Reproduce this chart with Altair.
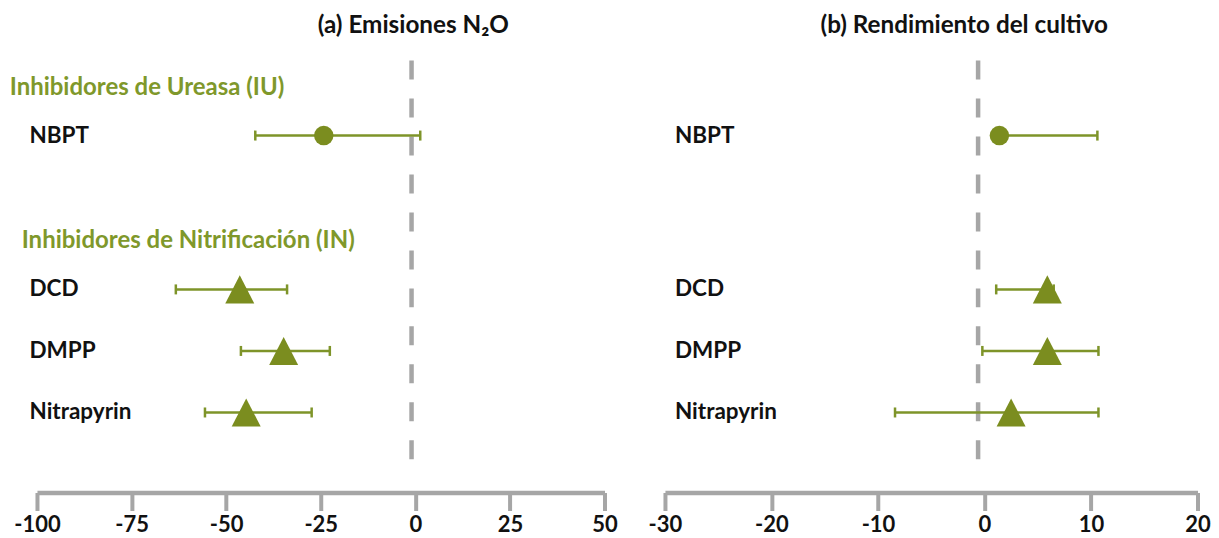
import json
import altair as alt
import pandas as pd

# ---- data ----
inhibitors = ["NBPT", "DCD", "DMPP", "Nitrapyrin"]
groups = ["IU", "IN", "IN", "IN"]

n2o_mean = [-24.2, -46.4, -34.8, -44.7]
n2o_low = [-42.3, -63.3, -46.1, -55.6]
n2o_high = [1.3, -33.9, -22.6, -27.4]

yield_mean = [1.4, 5.9, 5.9, 2.5]
yield_low = [1.0, 1.1, -0.2, -8.4]
yield_high = [10.6, 6.5, 10.7, 10.7]

ref_n2o = [-1.0]
ref_yield = [-0.6]

group_headers = ["Inhibidores de Ureasa (IU)", "Inhibidores de Nitrificación (IN)"]
header_rows = ["NBPT", "DCD"]

n2o_ticks = [-100, -75, -50, -25, 0, 25, 50]
yield_ticks = [-30, -20, -10, 0, 10, 20]

titles = ["(a) Emisiones N₂O", "(b) Rendimiento del cultivo"]

# ---- styling / layout ----
FONT = "Lato"
MARKER = "#7b8d1f"
LINE = "#7e9429"
HEADER = "#7f982b"
GREY = "#a6a6a6"
INK = "#111111"
TRI = "M0,-0.97L1,0.97L-1,0.97Z"

# row order on the vertical axis (half-row slots, blanks are spacing)
slots = ["NBPT", " 1", " 2", " 3", " 4", "DCD", " 5", "DMPP", " 6", "Nitrapyrin"]
slot_expr = "indexof(" + json.dumps(slots) + ", datum.inhibitor)"

y_enc = alt.Y(
    "slot:Q",
    scale=alt.Scale(domain=[-2.4375, 10.52], reverse=True, nice=False, zero=False),
    axis=None,
)


def panel(mean, low, high, ref, ticks, title, title_dx, label_x, headers, width):
    df = pd.DataFrame(
        {"inhibitor": inhibitors, "group": groups, "mean": mean, "low": low, "high": high}
    )
    x_scale = alt.Scale(domain=[ticks[0], ticks[-1]], nice=False, zero=False)
    x_axis = alt.Axis(
        values=ticks,
        labelExpr="'' + datum.value",
        labelFlush=False,
        labelOverlap=False,
        title=None,
        grid=False,
        offset=33.3,
        domainColor=GREY,
        domainWidth=4.3,
        tickColor=GREY,
        tickWidth=4,
        tickSize=18,
        labelPadding=4,
        labelFont=FONT,
        labelFontSize=22,
        labelFontWeight=700,
        labelColor=INK,
    )
    base = alt.Chart(df).transform_calculate(slot=slot_expr)

    refline = (
        alt.Chart(pd.DataFrame({"ref": ref}))
        .mark_rule(color=GREY, strokeWidth=4.5, strokeDash=[19, 19])
        .encode(x=alt.X("ref:Q", scale=x_scale, axis=x_axis))
    )
    whisker = base.mark_rule(color=LINE, strokeWidth=2.5).encode(
        x=alt.X("low:Q", scale=x_scale, axis=x_axis), x2="high:Q", y=y_enc
    )
    cap_lo = base.mark_tick(
        color=LINE, thickness=2.5, size=10, opacity=1, orient="vertical"
    ).encode(x=alt.X("low:Q", scale=x_scale, axis=x_axis), y=y_enc)
    cap_hi = base.mark_tick(
        color=LINE, thickness=2.5, size=10, opacity=1, orient="vertical"
    ).encode(x=alt.X("high:Q", scale=x_scale, axis=x_axis), y=y_enc)
    points = base.mark_point(filled=True, opacity=1, color=MARKER, strokeWidth=0).encode(
        x=alt.X("mean:Q", scale=x_scale, axis=x_axis),
        y=y_enc,
        shape=alt.Shape(
            "group:N",
            scale=alt.Scale(domain=["IU", "IN"], range=["circle", TRI]),
            legend=None,
        ),
        size=alt.Size(
            "group:N", scale=alt.Scale(domain=["IU", "IN"], range=[380, 841]), legend=None
        ),
    )
    labels = base.mark_text(
        align="left", baseline="middle", font=FONT, fontSize=22.5, fontWeight=700, color=INK
    ).encode(x=alt.value(label_x), y=y_enc, text="inhibitor:N")

    layers = [refline, whisker, cap_lo, cap_hi, points, labels]

    if headers:
        hdf = pd.DataFrame({"header": group_headers, "inhibitor": header_rows})
        for name, hx in zip(group_headers, [-27.3, -15.3]):
            layers.append(
                alt.Chart(hdf)
                .transform_calculate(slot=slot_expr)
                .transform_filter(alt.datum.header == name)
                .mark_text(
                    align="left",
                    baseline="middle",
                    dy=-48,
                    font=FONT,
                    fontSize=24,
                    fontWeight=700,
                    color=HEADER,
                )
                .encode(x=alt.value(hx), y=y_enc, text="header:N")
            )

    return alt.layer(*layers).properties(
        width=width,
        height=399,
        title=alt.TitleParams(
            title,
            font=FONT,
            fontSize=24.3,
            fontWeight=700,
            color=INK,
            anchor="middle",
            frame="group",
            dx=title_dx,
            offset=1.0,
            baseline="alphabetic",
        ),
    )


left = panel(n2o_mean, n2o_low, n2o_high, ref_n2o, n2o_ticks, titles[0], 92.7, -7.5, True, 568)
right = panel(
    yield_mean, yield_low, yield_high, ref_yield, yield_ticks, titles[1], 33, 10, False, 533
)

chart = (
    alt.hconcat(left, right, spacing=60.5, bounds="flush")
    .properties(padding={"left": 1, "top": 5.4, "right": 0, "bottom": 0}, background="white")
    .configure_view(stroke=None)
)

chart.save("out.html", embed_options={"renderer": "svg", "actions": False})
